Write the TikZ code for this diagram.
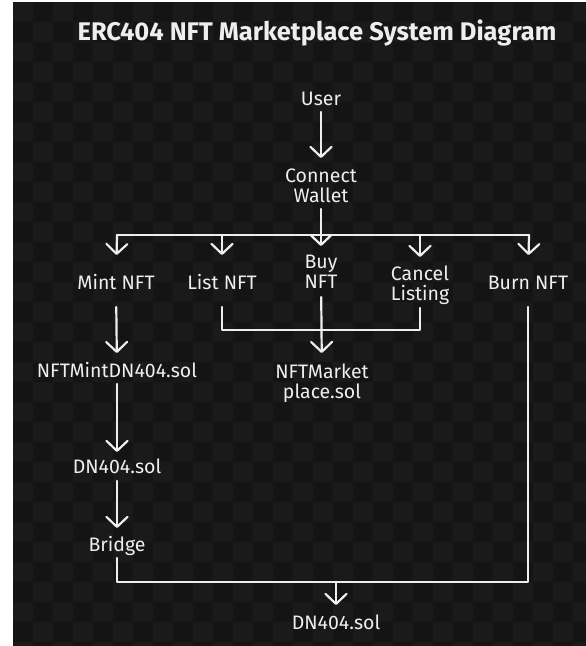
\documentclass[tikz,border=0pt]{standalone}
\usepackage{fontspec}
\setmainfont{Fira Sans}
\usetikzlibrary{arrows.meta}
\definecolor{bgA}{HTML}{141414}
\definecolor{bgB}{HTML}{1A1A1A}
\definecolor{ink}{HTML}{EEEEEE}
\begin{document}
\begin{tikzpicture}[x=1pt,y=-1pt,
  lbl/.style={text=ink, font=\fontsize{19.5}{20}\selectfont, inner sep=0pt, outer sep=0pt, text height=13.4pt, text depth=0pt},
  lbltwo/.style={text=ink, font=\fontsize{19.5}{20}\selectfont, inner sep=0pt, outer sep=0pt, align=center},
  wire/.style={draw=ink, line width=2.2pt, line cap=round, line join=round},
  arr/.style={wire, -{Straight Barb[length=10pt,width=21pt,round]}}]
\useasboundingbox (0,0) rectangle (586,646);
\fill[white] (0,0) rectangle (586,646);
\fill[bgA] (13,2) rectangle (586,646);
\begin{scope}
  \clip (13,2) rectangle (586,646);
  \foreach \i in {0,...,28} {
    \foreach \j in {0,...,32} {
      \pgfmathtruncatemacro\m{mod(\i+\j,2)}
      \ifnum\m=0
        \fill[bgB] (13+20*\i,2+20*\j) rectangle ++(20,20);
      \fi
    }
  }
\end{scope}

\node[text=ink, font=\fontsize{25.5}{27}\selectfont\bfseries] (title) at (317,33) {ERC404 NFT Marketplace System Diagram};

\node[lbl] (user) at (321,99) {User};
\node[lbltwo] (cw) at (321,186) {Connect\\Wallet};
\node[lbl] (mint) at (116,283) {Mint NFT};
\node[lbl] (list) at (222,283) {List NFT};
\node[lbltwo] (buy) at (321,272) {Buy\\NFT};
\node[lbltwo] (cancel) at (420,285) {Cancel\\Listing};
\node[lbl] (burn) at (528,283) {Burn NFT};
\node[lbl] (nftmint) at (117,371) {NFTMintDN404.sol};
\node[lbltwo] (market) at (322,383) {NFTMarket\\place.sol};
\node[lbl] (dna) at (117,467) {DN404.sol};
\node[lbl] (bridge) at (117,545) {Bridge};
\node[lbl] (dnb) at (336,623) {DN404.sol};

\coordinate (jl) at (117,235);
\coordinate (jr) at (529,235);
\coordinate (mk) at (322,330);
\coordinate (jb) at (336,582);

\draw[arr, shorten <=13pt, shorten >=28pt] (user.center) -- (cw.center);
\draw[wire] (jl) -- (jr);
\draw[arr, shorten <=23pt, shorten >=26pt] (cw.center) -- (buy.center);
\draw[arr, shorten >=28pt] (jl) -- (mint.center);
\draw[arr, shorten >=28pt] (list.center |- jl) -- (list.center);
\draw[arr, shorten >=28pt] (cancel.center |- jl) -- (cancel.center);
\draw[arr, shorten >=28pt] (jr) -- (burn.center);

\draw[arr, shorten <=24pt, shorten >=18pt] (mint.center) -- (nftmint.center);
\draw[wire, shorten <=24pt, shorten >=23pt] (list.center) |- (mk) -| (cancel.center);
\draw[arr, shorten <=25pt, shorten >=30pt] (buy.center) -- (market.center);
\draw[arr, shorten <=13pt, shorten >=15pt] (nftmint.center) -- (dna.center);
\draw[arr, shorten <=14pt, shorten >=17pt] (dna.center) -- (bridge.center);
\draw[wire, shorten <=13pt, shorten >=24pt] (bridge.center) |- (jb) -| (burn.center);
\draw[arr, shorten >=18pt] (jb) -- (dnb.center);
\end{tikzpicture}
\end{document}
